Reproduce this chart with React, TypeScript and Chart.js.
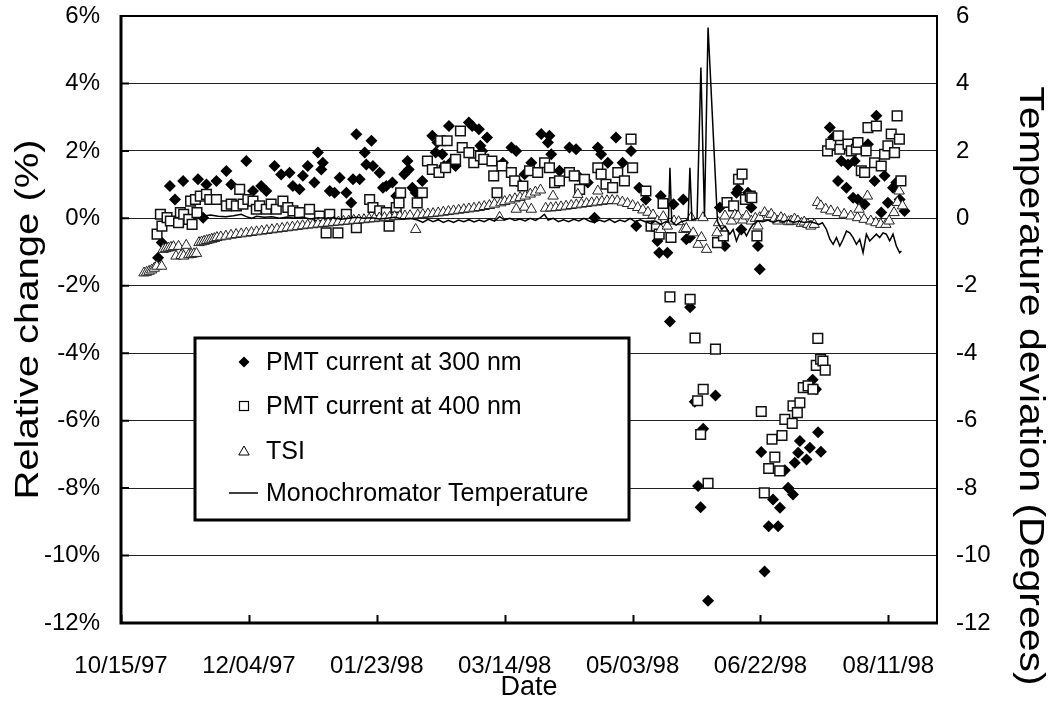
import React, { useEffect, useRef } from 'react';
import { Chart, registerables } from 'chart.js';

Chart.register(...registerables);

const FONT = "'Liberation Sans', Arial, Helvetica, sans-serif";

// X axis: days since 10/15/97
const xMinDay = 0;
const xMaxDay = 319;
const xTickDays = [0, 50, 100, 150, 200, 250, 300];
const xTickLabels = ['10/15/97', '12/04/97', '01/23/98', '03/14/98', '05/03/98', '06/22/98', '08/11/98'];

const yTickValues = [-12, -10, -8, -6, -4, -2, 0, 2, 4, 6];
const yLeftTickLabels = ['-12%', '-10%', '-8%', '-6%', '-4%', '-2%', '0%', '2%', '4%', '6%'];
const yRightTickLabels = ['-12', '-10', '-8', '-6', '-4', '-2', '0', '2', '4', '6'];

const seriesNames = ['PMT current at 300 nm', 'PMT current at 400 nm', 'TSI', 'Monochromator Temperature'];
const xTitle = 'Date';
const yLeftTitle = 'Relative change (%)';
const yRightTitle = 'Temperature deviation (Degrees)';

// PMT current at 300 nm (%)
const pmt300Days = [
  14.5, 15.9, 19.1, 21.1, 24.3, 30.1, 32.1, 33.4, 37.3, 41.2, 43.1, 49.0, 51.6, 54.8, 56.8, 60.0, 62.6, 65.9, 67.2, 69.8,
  71.1, 73.0, 75.6, 77.0, 78.3, 78.9, 81.6, 83.5, 85.5, 88.1, 90.0, 90.7, 92.0, 93.3, 95.3, 95.9, 97.9, 98.5, 101.1, 102.4,
  103.7, 106.1, 107.6, 110.7, 112.0, 112.5, 113.9, 115.2, 117.8, 121.7, 123.0, 123.7, 125.6, 126.3, 128.2, 128.8, 130.8, 136.0, 137.3, 139.9,
  140.5, 141.2, 143.1, 149.3, 152.6, 154.5, 154.6, 157.8, 160.4, 164.3, 166.9, 167.5, 168.2, 171.4, 175.3, 177.9, 178.6, 182.5, 185.1, 186.4,
  187.7, 190.3, 193.5, 196.1, 199.4, 201.4, 202.6, 205.2, 209.7, 210.4, 211.0, 213.6, 214.6, 216.0, 219.8, 221.0, 222.4, 222.5, 224.3, 225.6,
  226.6, 227.6, 229.5, 232.4, 234.1, 236.1, 240.6, 241.2, 242.5, 245.1, 246.4, 249.0, 249.7, 250.3, 251.6, 253.2, 254.9, 256.9, 257.6, 259.5,
  260.8, 262.7, 263.4, 264.7, 265.4, 268.0, 269.3, 270.4, 271.7, 272.5, 273.6, 277.1, 278.4, 280.3, 281.6, 283.6, 284.2, 286.2, 286.8, 288.1,
  290.7, 292.0, 294.6, 295.3, 297.2, 298.5, 299.8, 301.8, 303.1, 304.4, 306.3,
];
const pmt300Vals = [
  -1.17, -0.72, 0.96, 0.56, 1.11, 1.16, 0.02, 1.0, 1.11, 1.4, 1.0, 1.7, 0.81, 0.96, 0.81, 1.55, 1.3, 1.35, 0.96, 0.86,
  1.26, 1.55, 1.06, 1.95, 1.45, 1.65, 0.81, 0.76, 1.2, 0.76, 0.46, 1.16, 2.49, 1.16, 1.95, 1.6, 2.3, 1.55, 1.35, 0.91,
  0.96, 1.06, 0.66, 1.31, 1.7, 1.45, 0.91, 0.76, 1.11, 2.45, 1.95, 2.25, 1.9, 1.55, 2.74, 1.65, 1.55, 2.84, 2.74, 2.64,
  2.15, 2.0, 2.4, 1.65, 2.1, 2.0, 1.11, 1.31, 1.65, 2.5, 2.25, 2.45, 1.9, 1.41, 2.1, 2.05, 1.26, 1.06, 0.02, 2.1,
  1.9, 1.65, 2.4, 1.65, 2.0, -0.23, 0.91, 0.56, -0.67, -1.02, 0.66, -1.02, -3.06, 0.42, 0.56, -0.62, -0.57, -2.64, -5.44, -7.94,
  -8.57, -6.24, -11.34, -5.25, 0.32, -0.82, 0.76, 0.86, -0.33, 0.76, 0.32, -0.82, -1.51, -6.93, -10.47, -9.13, -8.34, -9.13, -8.58, -7.47,
  -7.99, -8.19, -7.25, -6.95, -6.6, -7.15, -6.8, -4.79, -5.07, -6.34, -6.92, 2.69, 2.4, 1.11, 1.7, 0.91, 1.6, 0.61, 1.7, 0.56,
  0.42, 2.2, 1.11, 3.04, 0.17, 1.26, 0.46, 0.91, 1.06, 0.56, 0.22,
];

// PMT current at 400 nm (%)
const pmt400Days = [
  14.1, 15.4, 16.0, 18.0, 19.3, 22.5, 23.2, 24.5, 26.5, 27.2, 27.8, 29.1, 29.7, 31.0, 33.4, 34.7, 37.3, 41.2, 43.1, 45.1,
  46.4, 47.7, 49.6, 51.6, 52.9, 54.2, 56.8, 58.7, 60.7, 63.3, 65.2, 67.2, 69.8, 73.7, 77.6, 80.2, 81.6, 84.8, 88.1, 92.0,
  97.2, 98.5, 101.1, 103.7, 104.8, 107.6, 108.7, 109.3, 115.8, 117.8, 119.8, 121.7, 124.3, 124.9, 126.9, 127.5, 130.8, 132.7, 133.4, 136.0,
  137.9, 140.5, 141.8, 145.0, 145.7, 147.0, 148.9, 152.6, 153.9, 157.1, 159.7, 162.9, 165.6, 167.5, 169.5, 171.4, 175.3, 177.2, 179.3, 181.2,
  186.4, 187.7, 189.6, 192.2, 194.2, 196.8, 199.4, 200.0, 205.2, 207.2, 209.3, 210.4, 211.9, 214.6, 215.0, 222.5, 224.4, 225.4, 226.6, 227.6,
  229.5, 232.4, 233.2, 235.5, 236.9, 239.5, 241.4, 242.8, 244.1, 246.0, 246.6, 248.6, 250.3, 251.5, 253.2, 254.5, 255.6, 257.5, 258.4, 259.5,
  262.4, 262.7, 264.4, 265.4, 266.7, 268.6, 270.5, 271.8, 272.4, 273.5, 274.4, 275.3, 276.2, 277.5, 280.4, 281.0, 284.2, 285.5, 287.5, 288.1,
  289.4, 290.7, 291.3, 292.0, 294.6, 295.3, 297.2, 298.5, 299.8, 301.1, 302.4, 303.4, 304.3, 304.9,
];
const pmt400Vals = [
  -0.47, 0.12, -0.23, 0.02, -0.08, -0.13, 0.17, 0.12, -0.03, 0.51, -0.18, 0.56, 0.17, 0.66, 0.71, 0.56, 0.56, 0.37, 0.42, 0.37,
  0.86, 0.42, 0.56, 0.51, 0.27, 0.37, 0.27, 0.42, 0.27, 0.51, 0.32, 0.22, 0.17, 0.27, 0.07, -0.43, 0.12, -0.43, 0.12, -0.28,
  0.56, 0.32, 0.22, 0.17, -0.23, 0.32, 0.46, 0.76, 0.46, 0.76, 1.7, 1.45, 1.36, 2.3, 1.5, 2.3, 1.75, 2.59, 2.1, 1.95,
  1.65, 1.85, 1.75, 1.7, 1.26, 0.76, 1.55, 1.36, 1.11, 0.96, 1.41, 1.36, 1.65, 1.5, 1.06, 1.11, 1.36, 1.26, 0.86, 1.16,
  1.5, 1.31, 1.01, 0.91, 1.36, 1.11, 2.35, 1.5, 0.81, -0.23, -0.23, -0.47, 0.44, -2.33, -0.57, -2.4, -3.55, -5.41, -6.41, -5.07,
  -7.86, -3.88, -0.72, -0.52, 0.47, 0.37, 1.16, 1.31, 0.56, 0.66, 0.61, -0.52, -5.73, -8.14, -7.42, -6.55, -7.08, -7.49, -6.44, -5.96,
  -6.08, -5.56, -5.76, -5.47, -5.02, -4.97, -5.07, -4.36, -3.56, -4.18, -4.23, -4.5, 2.0, 2.2, 2.45, 2.05, 2.2, 2.0, 2.05, 2.25,
  1.41, 1.36, 2.0, 2.69, 1.65, 2.74, 1.55, 1.9, 2.15, 2.5, 1.95, 3.04, 2.35, 1.11,
];

// TSI (%)
const tsiDays = [
  9, 10, 11, 12, 13, 14, 15.9, 16.5, 17.5, 18.5, 19.5, 20.5, 21.5, 22.5, 23.5, 24.5, 25.5, 26.5, 27.5, 28.5,
  29.5, 30.5, 31.5, 32.5, 33.5, 34.5, 35.5, 36.5, 37.5, 39, 41, 43, 45, 47, 49, 51, 53, 55, 57, 59,
  61, 63, 65, 67, 69, 71, 73, 75, 77, 79, 81, 83, 85, 87, 89, 91, 93, 95, 97, 99,
  101, 103, 105, 107, 109, 111, 113, 115.2, 116, 118, 120, 122, 124, 126, 128, 130, 132, 134, 136, 138,
  140, 142, 144, 146, 148, 148.5, 150, 152, 154, 154.5, 156, 157.8, 158, 160, 160.4, 162, 164, 166, 168, 168.9,
  170, 172, 174, 176, 178, 178.6, 180, 182, 184, 186, 186.4, 188, 190, 192, 194, 196, 198, 200, 202, 204,
  206, 208, 209.7, 211, 212, 213.6, 216.2, 218, 220, 221, 222.9, 223.7, 225.6, 226.9, 227.5, 228.9, 233, 233.6, 236.1, 238.7,
  240, 241.2, 243, 244.5, 246.4, 248, 249, 249.7, 251.6, 253, 254.2, 255.5, 256.8, 258, 259.4, 261, 262, 263.3, 264.6, 266,
  267.1, 268.5, 269.7, 271, 272.3, 273.6, 275.5, 277.5, 280.1, 282.7, 285.3, 287.9, 288.5, 290.5, 291.8, 293.1, 295.1, 297, 299, 300.3,
  302.2, 303.5, 304.2, 305.5,
];
const tsiVals = [
  -1.62, -1.6, -1.57, -1.53, -1.48, -1.42, -1.42, -0.92, -0.9, -0.88, -0.86, -0.84, -1.12, -0.83, -1.1, -1.12, -0.8, -1.08, -1.07, -1.05,
  -1.04, -0.72, -0.7, -0.68, -0.66, -0.64, -0.62, -0.6, -0.57, -0.55, -0.53, -0.5, -0.48, -0.46, -0.44, -0.42, -0.4, -0.38, -0.36, -0.34,
  -0.32, -0.3, -0.28, -0.26, -0.24, -0.22, -0.2, -0.19, -0.17, -0.15, -0.14, -0.12, -0.11, -0.09, -0.08, -0.06, -0.05, -0.04, -0.02, -0.01,
  0.01, 0.02, 0.03, 0.05, 0.06, 0.07, 0.08, -0.33, 0.1, 0.11, 0.13, 0.14, 0.16, 0.18, 0.2, 0.22, 0.24, 0.26, 0.28, 0.3,
  0.32, 0.35, 0.38, 0.42, 0.03, 0.46, 0.5, 0.54, 0.58, 0.27, 0.62, 0.33, 0.66, 0.72, 0.27, 0.78, 0.84, 0.3, 0.31, 0.66,
  0.32, 0.34, 0.36, 0.38, 0.4, 0.71, 0.42, 0.44, 0.46, 0.48, 0.81, 0.5, 0.52, 0.53, 0.52, 0.48, 0.44, 0.38, 0.32, 0.25,
  0.18, 0.1, -0.08, -0.33, 0.05, -0.23, -0.08, -0.1, -0.33, -0.3, 0.02, -0.43, -0.77, -0.57, 0.02, -0.92, -0.43, -0.13, 0.07, -0.08,
  0.1, 0.07, -0.05, 0.07, -0.08, 0.0, -0.23, 0.02, 0.17, 0.05, 0.12, 0.0, -0.08, 0.02, -0.03, -0.1, -0.08, -0.02, -0.08, -0.15,
  -0.11, -0.18, -0.23, -0.18, 0.47, 0.37, 0.27, 0.22, 0.17, 0.12, 0.07, 0.02, 0.27, -0.03, 0.66, -0.08, -0.13, -0.18, -0.18, -0.08,
  0.17, 0.47, 0.81, 0.37,
];

// Monochromator temperature deviation (degrees, right axis)
const tempDays = [
  31, 33, 35, 38, 41, 44, 47, 49, 51, 53, 56, 59, 62, 65, 68, 71, 74, 77, 80, 83,
  86, 89, 92, 95, 98, 101, 104, 107, 110, 113, 116, 118, 120, 122, 124, 126, 128, 130, 132, 134,
  136, 138, 140, 142, 144, 146, 148, 150, 152, 154, 156, 158, 160, 162, 164, 165.5, 167, 169, 171, 173,
  175, 177, 179, 181, 183, 185, 187, 189, 191, 193, 195, 197, 199, 201, 203, 205, 207, 209, 211, 213,
  214, 214.6, 215.3, 217, 219, 221.7, 222.4, 223.2, 225.2, 226.7, 228.1, 229.5, 233.2, 234.8, 236.1, 238.0, 239.3, 240.6, 241.9, 243.2,
  244.5, 245.8, 247.1, 249.0, 251, 253, 255, 257, 259, 261, 263, 265, 267, 269, 271, 272.9, 274.2, 275.8, 277.1, 278.4,
  279.7, 281.0, 282.3, 283.6, 284.9, 286.2, 287.5, 288.8, 290.1, 291.4, 292.7, 294.0, 295.3, 296.6, 297.9, 299.2, 300.5, 301.8, 303.1, 304.4,
  305.1,
];
const tempVals = [
  0.05, 0.08, 0.1, 0.06, 0.05, 0.08, 0.12, 0.05, 0.0, 0.06, 0.03, 0.05, 0.0, 0.04, 0.0, 0.03, -0.02, 0.02, 0.0, 0.02,
  -0.03, 0.0, 0.03, 0.0, 0.02, -0.02, 0.0, 0.03, -0.02, 0.0, -0.05, -0.12, -0.03, -0.1, -0.04, -0.12, -0.06, -0.12, -0.05, -0.1,
  -0.04, -0.11, -0.05, -0.1, -0.02, -0.08, 0.05, -0.05, 0.0, -0.06, -0.02, -0.08, 0.0, -0.06, 0.02, 0.12, -0.05, 0.0, -0.1, -0.04,
  -0.1, -0.03, -0.08, 0.0, -0.08, -0.12, -0.05, -0.1, -0.03, -0.12, -0.05, -0.1, 0.0, -0.1, -0.04, -0.1, -0.15, -0.08, -0.18, -0.1,
  -0.12, 1.5, -0.1, -0.2, -0.1, -0.05, 1.5, -0.05, 0.0, 4.47, 0.05, 5.66, -0.1, -0.33, -0.23, -0.47, -0.33, -0.67, -0.43, -0.33,
  -0.52, -0.33, -0.18, -0.08, -0.1, -0.05, -0.12, -0.06, -0.1, -0.05, -0.12, -0.08, -0.12, -0.1, -0.13, -0.18, -0.13, -0.33, -0.62, -0.77,
  -0.57, -0.82, -0.62, -0.38, -0.43, -0.57, -0.77, -0.62, -1.02, -0.47, -0.67, -0.57, -0.47, -0.57, -0.43, -0.47, -0.67, -0.47, -0.82, -1.02,
  -0.97,
];

const toPoints = (days: number[], vals: number[]) => days.map((d, i) => ({ x: d, y: vals[i] }));

function drawDiamond(ctx: CanvasRenderingContext2D, x: number, y: number, r: number) {
  ctx.beginPath();
  ctx.moveTo(x - r, y);
  ctx.lineTo(x, y - r);
  ctx.lineTo(x + r, y);
  ctx.lineTo(x, y + r);
  ctx.closePath();
  ctx.fillStyle = '#000';
  ctx.fill();
}
function drawSquare(ctx: CanvasRenderingContext2D, x: number, y: number, s: number) {
  ctx.fillStyle = '#fff';
  ctx.fillRect(x - s / 2, y - s / 2, s, s);
  ctx.lineWidth = 1.2;
  ctx.strokeStyle = '#000';
  ctx.strokeRect(x - s / 2, y - s / 2, s, s);
}
function drawTriangle(ctx: CanvasRenderingContext2D, x: number, y: number, r: number) {
  ctx.beginPath();
  ctx.moveTo(x, y - r);
  ctx.lineTo(x + r * 0.866, y + r * 0.5);
  ctx.lineTo(x - r * 0.866, y + r * 0.5);
  ctx.closePath();
  ctx.fillStyle = '#fff';
  ctx.fill();
  ctx.lineWidth = 1;
  ctx.strokeStyle = '#000';
  ctx.stroke();
}

const framePlugin = {
  id: 'frameAndLegend',
  afterDatasetsDraw(chart: any) {
    const { ctx, chartArea: a, scales } = chart;
    ctx.save();
    ctx.strokeStyle = '#000';
    ctx.lineCap = 'butt';
    // top and right border
    ctx.lineWidth = 2;
    ctx.beginPath();
    ctx.moveTo(a.left, a.top);
    ctx.lineTo(a.right, a.top);
    ctx.lineTo(a.right, a.bottom);
    ctx.stroke();
    // left and bottom axis lines
    ctx.lineWidth = 3;
    ctx.beginPath();
    ctx.moveTo(a.left, a.top - 1);
    ctx.lineTo(a.left, a.bottom);
    ctx.lineTo(a.right + 1, a.bottom);
    ctx.stroke();
    // inward tick marks
    ctx.lineWidth = 2;
    ctx.beginPath();
    for (const d of xTickDays) {
      const px = Math.round(scales.x.getPixelForValue(d)) + 0.5;
      ctx.moveTo(px, a.bottom);
      ctx.lineTo(px, a.bottom - 8);
    }
    for (const v of yTickValues) {
      const py = scales.y.getPixelForValue(v);
      ctx.moveTo(a.left, py);
      ctx.lineTo(a.left + 8, py);
    }
    ctx.stroke();

    // legend box
    const L = { left: a.left + 74, top: a.top + 322, width: 434, height: 182 };
    ctx.fillStyle = '#fff';
    ctx.fillRect(L.left, L.top, L.width, L.height);
    ctx.lineWidth = 3;
    ctx.strokeStyle = '#000';
    ctx.strokeRect(L.left, L.top, L.width, L.height);
    const rowY = [24, 68, 113, 155];
    const mx = L.left + 49;
    const tx = L.left + 71;
    drawDiamond(ctx, mx, L.top + rowY[0], 5.5);
    drawSquare(ctx, mx, L.top + rowY[1], 9);
    drawTriangle(ctx, mx, L.top + rowY[2] + 1, 6);
    ctx.lineWidth = 1.5;
    ctx.strokeStyle = '#000';
    ctx.beginPath();
    ctx.moveTo(L.left + 34, L.top + rowY[3]);
    ctx.lineTo(L.left + 63, L.top + rowY[3]);
    ctx.stroke();
    ctx.fillStyle = '#000';
    ctx.font = `25px ${FONT}`;
    ctx.textBaseline = 'middle';
    ctx.textAlign = 'left';
    seriesNames.forEach((n, i) => ctx.fillText(n, tx, L.top + rowY[i] + 1));

    // vertical axis titles
    ctx.textAlign = 'center';
    ctx.textBaseline = 'middle';
    ctx.font = `40px ${FONT}`;
    ctx.save();
    ctx.translate(29, (a.top + a.bottom) / 2);
    ctx.rotate(-Math.PI / 2);
    ctx.scale(1, 0.85);
    ctx.fillText(yLeftTitle, 0, 0);
    ctx.restore();
    ctx.font = `41px ${FONT}`;
    ctx.save();
    ctx.translate(1030, a.top + 370);
    ctx.rotate(Math.PI / 2);
    ctx.scale(1, 0.85);
    ctx.fillText(yRightTitle, 0, 0);
    ctx.restore();
    ctx.restore();
  },
};

export default function App() {
  const ref = useRef<HTMLCanvasElement>(null);
  useEffect(() => {
    if (!ref.current) return;
    const chart = new Chart(ref.current, {
      type: 'scatter',
      data: {
        datasets: [
          {
            label: seriesNames[0],
            data: toPoints(pmt300Days, pmt300Vals),
            pointStyle: 'rectRot',
            pointRadius: 6,
            backgroundColor: '#000',
            borderColor: '#000',
            borderWidth: 0,
            yAxisID: 'y',
            order: 4,
          },
          {
            label: seriesNames[1],
            data: toPoints(pmt400Days, pmt400Vals),
            pointStyle: 'rect',
            pointRadius: 6.8,
            backgroundColor: '#fff',
            borderColor: '#111',
            borderWidth: 1.5,
            yAxisID: 'y',
            order: 3,
          },
          {
            label: seriesNames[2],
            data: toPoints(tsiDays, tsiVals),
            pointStyle: 'triangle',
            pointRadius: 6,
            backgroundColor: '#fff',
            borderColor: '#222',
            borderWidth: 1,
            yAxisID: 'y',
            order: 2,
          },
          {
            label: seriesNames[3],
            data: toPoints(tempDays, tempVals),
            showLine: true,
            pointRadius: 0,
            borderColor: '#000',
            borderWidth: 1.5,
            backgroundColor: '#000',
            tension: 0,
            yAxisID: 'y1',
            order: 1,
          } as any,
        ],
      },
      options: {
        responsive: false,
        animation: false,
        devicePixelRatio: 1,
        layout: { padding: { top: 16, left: 0, right: 0, bottom: 0 } },
        plugins: { legend: { display: false }, tooltip: { enabled: false }, title: { display: false } },
        events: [],
        scales: {
          x: {
            type: 'linear',
            min: xMinDay,
            max: xMaxDay,
            grid: { display: false },
            border: { display: false },
            afterBuildTicks: (s: any) => {
              s.ticks = xTickDays.map((v) => ({ value: v }));
            },
            afterFit: (s: any) => {
              s.height = 94;
              s.paddingLeft = 0;
              s.paddingRight = 0;
            },
            ticks: {
              autoSkip: false,
              maxRotation: 0,
              padding: 21,
              color: '#000',
              font: { family: FONT, size: 24 },
              callback: (v: any) => {
                const i = xTickDays.indexOf(Number(v));
                return i >= 0 ? xTickLabels[i] : '';
              },
            },
            title: {
              display: true,
              text: xTitle,
              color: '#000',
              font: { family: FONT, size: 27 },
              padding: { top: 0, bottom: 13 },
            },
          },
          y: {
            type: 'linear',
            position: 'left',
            min: -12,
            max: 6,
            grid: { color: '#222', lineWidth: 1, drawTicks: false },
            border: { display: false },
            afterBuildTicks: (s: any) => {
              s.ticks = yTickValues.map((v) => ({ value: v }));
            },
            afterFit: (s: any) => {
              s.width = 121;
              s.paddingTop = 0;
              s.paddingBottom = 0;
            },
            ticks: {
              padding: 21,
              color: '#000',
              font: { family: FONT, size: 24 },
              callback: (v: any) => {
                const i = yTickValues.indexOf(Number(v));
                return i >= 0 ? yLeftTickLabels[i] : '';
              },
            },
            title: { display: false },
          },
          y1: {
            type: 'linear',
            position: 'right',
            min: -12,
            max: 6,
            grid: { display: false, drawTicks: false },
            border: { display: false },
            afterBuildTicks: (s: any) => {
              s.ticks = yTickValues.map((v) => ({ value: v }));
            },
            afterFit: (s: any) => {
              s.width = 112;
              s.paddingTop = 0;
              s.paddingBottom = 0;
            },
            ticks: {
              padding: 19,
              color: '#000',
              font: { family: FONT, size: 24 },
              callback: (v: any) => {
                const i = yTickValues.indexOf(Number(v));
                return i >= 0 ? yRightTickLabels[i] : '';
              },
            },
            title: { display: false },
          },
        },
      },
      plugins: [framePlugin],
    } as any);
    return () => chart.destroy();
  }, []);
  return (
    <div style={{ position: 'absolute', left: 0, top: 0, width: 1049, height: 717, background: '#fff' }}>
      <canvas ref={ref} width={1049} height={717} style={{ display: 'block' }} />
    </div>
  );
}
